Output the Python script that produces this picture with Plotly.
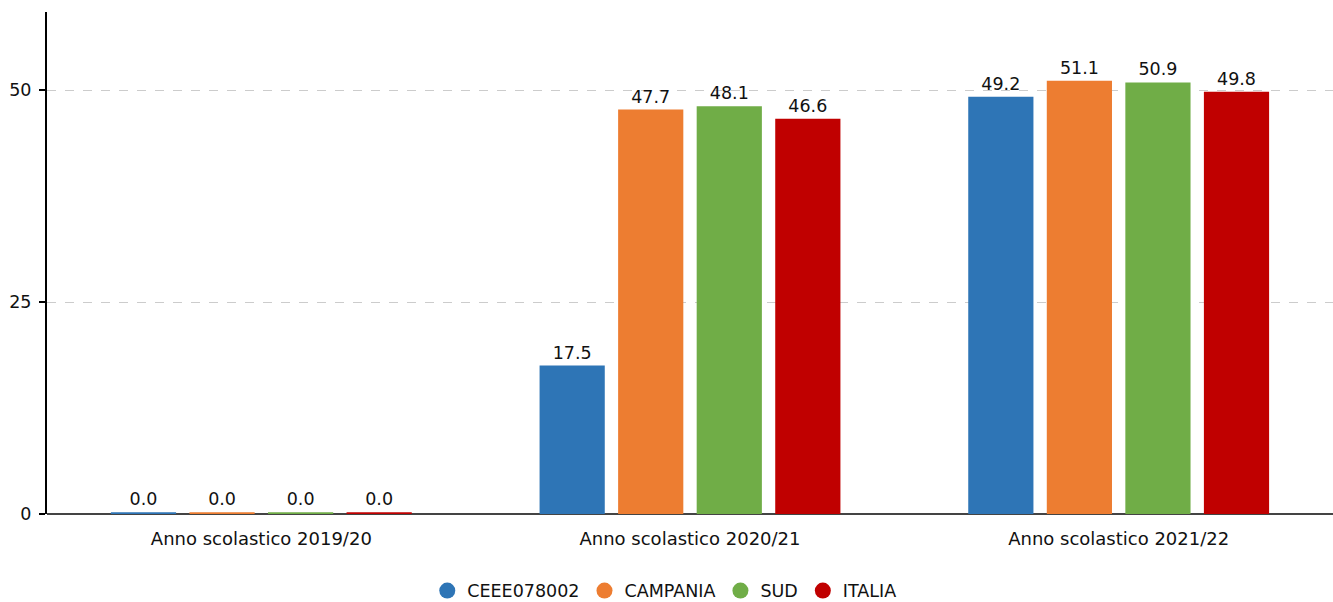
import plotly.graph_objects as go

categories = ["Anno scolastico 2019/20", "Anno scolastico 2020/21", "Anno scolastico 2021/22"]
series_names = ["CEEE078002", "CAMPANIA", "SUD", "ITALIA"]
values = {
    "CEEE078002": [0.0, 17.5, 49.2],
    "CAMPANIA": [0.0, 47.7, 51.1],
    "SUD": [0.0, 48.1, 50.9],
    "ITALIA": [0.0, 46.6, 49.8],
}
colors = {
    "CEEE078002": "#2e75b6",
    "CAMPANIA": "#ed7d31",
    "SUD": "#70ad47",
    "ITALIA": "#c00000",
}

MIN_VISIBLE = 0.2  # minimum drawn height so zero bars show as a thin line

font_family = "DejaVu Sans"
fs = 17.5
fig = go.Figure()
for name in series_names:
    vals = values[name]
    fig.add_trace(go.Bar(
        x=categories, y=[max(v, MIN_VISIBLE) for v in vals], name=name,
        marker=dict(color=colors[name], line=dict(width=8, color="rgba(0,0,0,0)")),
        text=[f"{v:.1f}" for v in vals], textposition="outside",
        textfont=dict(color="#111", size=fs, family=font_family),
        cliponaxis=False, showlegend=False, hoverinfo="text",
    ))
for name in series_names:
    fig.add_trace(go.Scatter(
        x=[None], y=[None], mode="markers", name=name,
        marker=dict(color=colors[name], size=25, symbol="circle"),
    ))

fig.update_layout(
    width=1333, height=602,
    margin=dict(l=47, r=0, t=12, b=88, autoexpand=False),
    plot_bgcolor="white", paper_bgcolor="white",
    barmode="group", bargap=0.267, bargroupgap=0.17,
    font=dict(family=font_family, size=fs, color="#111"),
    legend=dict(orientation="h", x=0.48, xanchor="center", y=-0.117, yanchor="top",
                font=dict(size=fs, family=font_family), itemsizing="trace"),
    xaxis=dict(showgrid=False, ticks="", tickfont=dict(size=18), showline=False,
               ticklabelstandoff=12),
    yaxis=dict(range=[0, 59.2], tickvals=[0, 25, 50], showgrid=True,
               gridcolor="#cccccc", griddash="dash", gridwidth=1,
               zeroline=True, zerolinecolor="#444444", zerolinewidth=2,
               showline=True, linecolor="black", linewidth=2,
               ticks="outside", ticklen=6, tickwidth=2, tickcolor="black",
               tickfont=dict(size=fs), ticklabelstandoff=4),
)
fig.write_html("out.html", config={"displayModeBar": False},
               post_script="document.body.style.margin='0';document.body.style.overflow='hidden';")
